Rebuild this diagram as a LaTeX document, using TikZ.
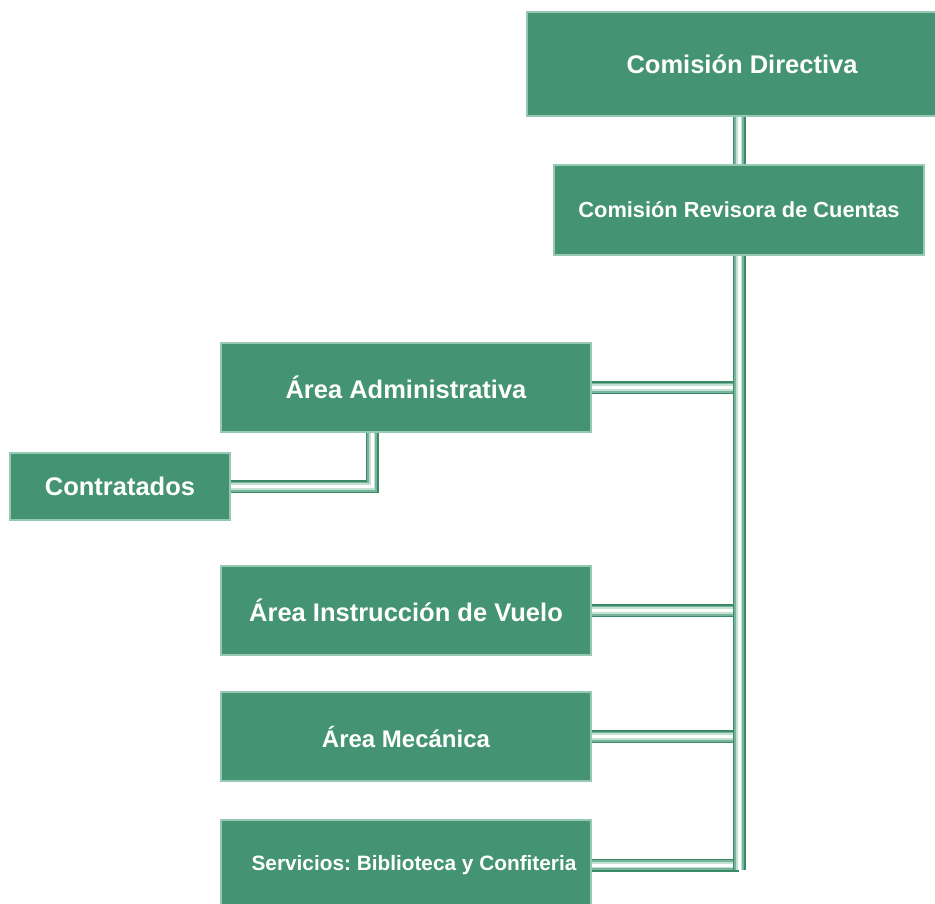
\documentclass[tikz,border=0pt]{standalone}
\usepackage{fontspec}
\setmainfont{Liberation Sans}
\usepackage{xcolor}
\definecolor{boxgreen}{RGB}{68,148,116}
\definecolor{boxlight}{RGB}{150,200,178}
\definecolor{tubeedge}{RGB}{58,138,106}
\definecolor{tubemid}{RGB}{120,180,155}
\definecolor{tubelight}{RGB}{195,225,212}
\tikzset{
	orgbox/.style={
			rectangle, fill=boxgreen, draw=boxlight, line width=2.5pt,
			text=white, font=\bfseries, align=center, inner sep=0pt,
			minimum width=370pt, minimum height=89pt
		},
	tube/.style={
			line width=13pt, draw=tubeedge, line join=miter,
			postaction={draw=tubemid, line width=10pt},
			postaction={draw=tubelight, line width=6.5pt},
			postaction={draw=white, line width=3pt}
		}
}
\frenchspacing

\begin{document}
\begin{tikzpicture}[x=1pt,y=-1pt]
            \useasboundingbox (0,0) rectangle (935,904);

            % Boxes of the chart
            \node[orgbox, minimum width=430pt, minimum height=104pt, font=\bfseries\fontsize{25.5}{29}\selectfont] (dir) at (742,64) {\raisebox{-4pt}{Comisión Directiva}};
            \node[orgbox, minimum height=90pt, font=\bfseries\fontsize{21.8}{25}\selectfont] (rev) at (739,210) {Comisión Revisora de Cuentas};
            \node[orgbox, font=\bfseries\fontsize{25.5}{29}\selectfont] (adm) at (406,387.5) {Área Administrativa};
            \node[orgbox, minimum width=220pt, minimum height=67pt, font=\bfseries\fontsize{25.5}{29}\selectfont] (con) at (120,486.5) {Contratados};
            \node[orgbox, font=\bfseries\fontsize{25.5}{29}\selectfont] (ins) at (406,610.5) {Área Instrucción de Vuelo};
            \node[orgbox, font=\bfseries\fontsize{24}{28}\selectfont] (mec) at (406,736.5) {Área Mecánica};
            \node[orgbox, minimum height=90pt, font=\bfseries\fontsize{20.8}{24}\selectfont] (ser) at (406,865) {\hspace*{16pt}Servicios: Biblioteca y Confiteria};

            % Branches to the main line
            \coordinate (trunkend) at (739,870);
            \foreach \area in {adm,ins,mec,ser} {
                \draw[tube] (\area.east) -- (\area.east -| rev.south);
            }
            \draw[tube] ([xshift=-34pt]adm.south) |- (con.east);

            % Main line
            \draw[tube] (rev.north |- dir.south) -- (rev.north);
            \draw[tube] (rev.south) -- (trunkend);
\end{tikzpicture}
\end{document}
